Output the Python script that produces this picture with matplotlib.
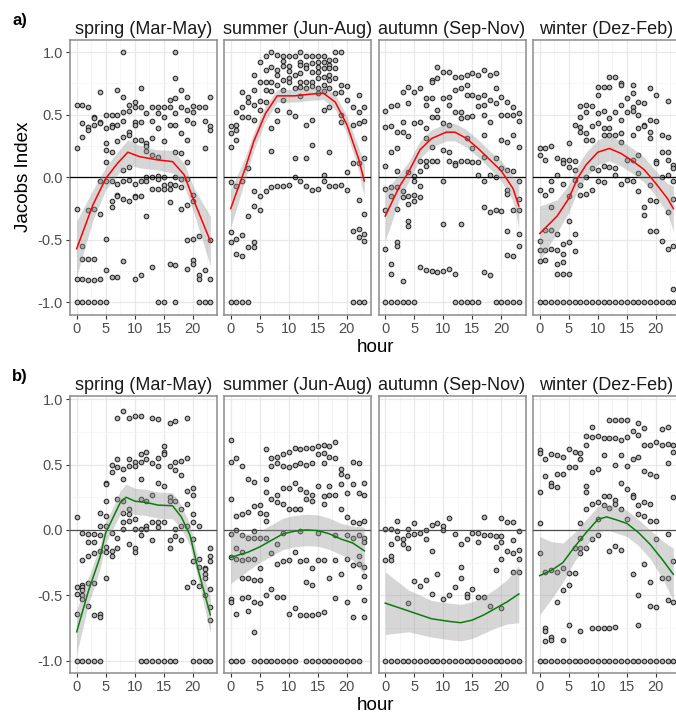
import matplotlib
matplotlib.use("Agg")
import matplotlib.pyplot as plt
from matplotlib.ticker import MultipleLocator

plt.rcParams['font.family'] = ['Liberation Sans', 'DejaVu Sans']

SEASONS = ["spring (Mar-May)", "summer (Jun-Aug)", "autumn (Sep-Nov)", "winter (Dez-Feb)"]
HOURS = list(range(24))

# ---- row a): Jacobs index per hour (one list per hour) ----
SPRING_A = [
    [0.58, 0.23, -0.25, -0.81, -1.0],
    [0.58, 0.43, 0.32, -0.55, -0.65, -0.81, -1.0],
    [0.56, 0.40, 0.38, -0.26, -0.65, -0.82, -1.0],
    [0.48, 0.47, 0.42, -0.25, -0.65, -0.82, -1.0],
    [0.68, 0.44, 0.43, -0.03, -0.29, -0.81, -1.0],
    [0.50, 0.39, 0.27, 0.22, 0.12, -0.03, -0.49, -0.74, -1.0],
    [0.50, 0.42, 0.40, 0.20, -0.03, -0.19, -0.24, -0.80],
    [0.70, 0.50, 0.42, 0.29, -0.05, -0.14, -0.15, -0.80],
    [1.0, 0.64, 0.52, 0.45, 0.32, 0.06, -0.03, -0.17, -0.67],
    [0.58, 0.53, 0.36, 0.34, 0.08, -0.02, -0.19],
    [0.60, 0.56, 0.44, 0.42, 0.30, -0.05, -0.15, -0.16, -0.81],
    [0.71, 0.56, 0.44, 0.30, -0.03, -0.15, -0.78],
    [0.51, 0.27, 0.25, 0.21, 0.0, -0.03, -0.31],
    [0.56, 0.45, 0.31, 0.18, 0.0, -0.09, -0.72],
    [0.56, 0.51, 0.39, 0.16, 0.01, -0.01, -0.09, -1.0],
    [0.56, 0.48, 0.29, 0.0, -0.06, -0.09, -1.0],
    [0.62, 0.56, 0.42, -0.05, -0.09, -0.20, -0.69],
    [1.0, 0.79, 0.63, 0.51, 0.42, 0.20, 0.0, -0.06, -0.70, -1.0],
    [0.70, 0.56, 0.35, 0.19, -0.01, -0.08, -0.25],
    [0.64, 0.54, 0.46, 0.30, 0.12, -0.01, -0.22, -0.50, -0.73],
    [0.57, 0.52, 0.43, -0.14, -0.19, -0.49, -0.66, -0.69],
    [0.56, -0.47, -0.78, -0.81, -1.0],
    [0.56, 0.45, 0.23, -0.74, -1.0],
    [0.64, 0.41, 0.38, -0.50, -0.81, -1.0],
]
SUMMER_A = [
    [0.41, 0.35, 0.24, -0.04, -0.44, -0.52, -1.0],
    [0.52, 0.42, 0.38, 0.30, -0.07, -0.49, -0.61, -1.0],
    [0.68, 0.56, 0.48, -0.03, -0.46, -0.63, -1.0],
    [0.64, 0.60, 0.48, 0.07, -0.31, -0.56, -1.0],
    [0.82, 0.70, 0.58, 0.46, -0.11, -0.23, -0.52, -0.56],
    [0.92, 0.76, 0.61, 0.54, -0.15, -0.26],
    [0.97, 0.86, 0.76, 0.70, 0.60, -0.11],
    [1.0, 0.88, 0.76, 0.69, 0.39, 0.21, -0.08],
    [0.98, 0.86, 0.82, 0.74, 0.54, 0.45, -0.07],
    [0.97, 0.93, 0.89, 0.78, 0.70, 0.62, -0.07],
    [0.97, 0.89, 0.85, 0.79, 0.76, 0.52, -0.06],
    [0.97, 0.82, 0.71, 0.49, 0.15, 0.0],
    [1.0, 0.92, 0.90, 0.83, 0.76, 0.72, 0.65, -0.03],
    [0.97, 0.90, 0.87, 0.76, 0.71, 0.42, 0.15, -0.07],
    [0.97, 0.91, 0.84, 0.76, 0.73, 0.46, 0.26, -0.10],
    [0.97, 0.92, 0.88, 0.84, 0.79, 0.71, 0.67, -0.09],
    [0.97, 0.92, 0.87, 0.80, 0.74, 0.69, 0.54, 0.02, -0.03],
    [0.94, 0.90, 0.87, 0.82, 0.78, 0.71, 0.56, 0.20, -0.07],
    [1.0, 0.94, 0.87, 0.79, 0.67, -0.07],
    [1.0, 0.74, 0.68, 0.50, 0.44, -0.06],
    [0.73, 0.62, 0.04, -0.10],
    [0.56, 0.42, 0.11, -0.43, -1.0],
    [0.66, 0.52, 0.43, 0.11, -0.18, -0.41, -0.48, -1.0],
    [0.56, 0.45, 0.31, 0.15, -0.29, -0.45, -0.51, -1.0],
]
AUTUMN_A = [
    [0.53, 0.40, 0.09, -0.09, -0.26, -0.57, -1.0],
    [0.57, 0.41, 0.20, -0.08, -0.15, -0.69, -0.77, -1.0],
    [0.58, 0.36, 0.23, 0.05, -0.08, -0.25, -0.52, -0.55, -1.0],
    [0.68, 0.44, 0.36, -0.11, -0.16, -0.83, -1.0],
    [0.72, 0.59, 0.33, 0.04, -0.15, -0.21, -0.35, -0.39, -1.0],
    [0.68, 0.43, 0.01, -0.03, -0.14, -0.19, -1.0],
    [0.71, 0.44, 0.13, 0.05, -0.07, -0.16, -0.72],
    [0.63, 0.58, 0.39, 0.31, 0.13, 0.09, -0.74],
    [0.78, 0.76, 0.63, 0.48, 0.24, 0.13, -0.75],
    [0.88, 0.79, 0.54, 0.48, 0.13, -0.76],
    [0.84, 0.63, 0.43, 0.22, -0.03, -0.37, -0.75],
    [0.84, 0.64, 0.58, 0.42, 0.20, 0.13, -0.73],
    [0.80, 0.70, 0.52, 0.11, 0.10, -0.77, -1.0],
    [0.80, 0.71, 0.52, 0.47, 0.13, -0.37, -1.0],
    [0.82, 0.74, 0.66, 0.48, 0.31, 0.13, -1.0],
    [0.83, 0.66, 0.49, 0.23, 0.12, -1.0],
    [0.82, 0.64, 0.57, 0.12, 0.02, -1.0],
    [0.86, 0.66, 0.58, 0.50, 0.34, 0.16, -0.03, -0.24, -0.76],
    [0.82, 0.62, 0.44, 0.02, -0.28, -0.78],
    [0.83, 0.71, 0.59, 0.15, 0.0, -0.26, -1.0],
    [0.64, 0.50, 0.30, 0.07, -0.27, -1.0],
    [0.60, 0.50, 0.28, 0.06, -0.10, -0.13, -0.43, -0.62, -1.0],
    [0.56, 0.50, 0.34, 0.05, -0.26, -0.63, -1.0],
    [0.51, 0.45, 0.24, -0.03, -0.17, -0.26, -0.45, -0.55, -1.0],
]
WINTER_A = [
    [0.23, 0.18, -0.10, -0.51, -0.58, -0.67, -1.0],
    [0.23, 0.14, -0.14, -0.42, -0.58, -0.66, -1.0],
    [0.25, -0.03, -0.10, -0.24, -0.42, -0.57, -1.0],
    [0.15, 0.02, -0.45, -0.58, -0.69, -0.77, -1.0],
    [0.14, 0.11, -0.05, -0.53, -0.61, -0.68, -0.77, -1.0],
    [0.27, 0.14, 0.08, -0.15, -0.35, -0.52, -0.77, -1.0],
    [0.42, 0.13, 0.06, -0.02, -0.45, -0.59, -1.0],
    [0.57, 0.48, 0.40, 0.36, -0.06, -0.14, -1.0],
    [0.58, 0.52, 0.35, 0.30, 0.0, -0.13, -1.0],
    [0.57, 0.41, 0.30, 0.07, -0.10, -1.0],
    [0.72, 0.66, 0.51, 0.43, 0.06, -0.03, -1.0],
    [0.72, 0.53, 0.39, 0.34, 0.09, -0.04, -1.0],
    [0.80, 0.72, 0.47, 0.39, 0.34, 0.08, -1.0],
    [0.80, 0.52, 0.34, 0.07, 0.02, -1.0],
    [0.75, 0.74, 0.58, 0.46, 0.35, 0.28, -0.05, -1.0],
    [0.63, 0.52, 0.14, -0.02, -1.0],
    [0.74, 0.67, 0.56, 0.53, 0.34, 0.14, -0.03, -1.0],
    [0.60, 0.50, 0.39, 0.18, 0.03, -0.11, -1.0],
    [0.59, 0.42, 0.41, -0.24, -0.30, -1.0],
    [0.71, 0.46, 0.36, 0.31, -0.06, -0.18, -0.43, -1.0],
    [0.66, 0.45, 0.13, 0.11, -0.19, -0.43, -1.0],
    [0.34, 0.20, 0.0, -0.51, -1.0],
    [0.61, 0.32, 0.20, 0.14, 0.02, -0.28, -0.57, -1.0],
    [0.10, 0.07, -0.03, -0.17, -0.55, -0.89, -1.0],
]

# ---- row b) ----
SPRING_B = [
    [0.10, -0.44, -0.49, -0.64, -1.0],
    [-0.02, -0.23, -0.42, -0.44, -0.46, -0.50, -0.53, -1.0],
    [-0.03, -0.09, -0.20, -0.41, -0.58, -1.0],
    [-0.03, -0.09, -0.18, -0.41, -0.65, -1.0],
    [0.13, 0.03, -0.04, -0.16, -0.64, -0.67, -1.0],
    [0.36, 0.35, 0.22, 0.11, 0.03, -0.13, -0.17, -0.37],
    [0.50, 0.44, -0.02, -0.16, -0.20],
    [0.86, 0.54, 0.48, 0.24, -0.06, -0.14],
    [0.91, 0.47, 0.39, 0.22, 0.13, 0.06, 0.01],
    [0.86, 0.54, 0.49, 0.16, 0.12, 0.07, -0.11],
    [0.87, 0.52, 0.49, 0.08, 0.01, -0.14, -0.17],
    [0.87, 0.58, 0.52, 0.39, 0.24, 0.01, -0.04, -1.0],
    [0.60, 0.54, 0.22, 0.03, 0.01, -1.0],
    [0.86, 0.51, 0.27, 0.06, -0.08, -1.0],
    [0.85, 0.55, 0.49, 0.36, 0.06, 0.02, -1.0],
    [0.64, 0.60, 0.58, 0.34, 0.06, -1.0],
    [0.82, 0.49, 0.25, 0.22, -0.08, -0.14, -1.0],
    [0.83, 0.52, 0.46, 0.22, 0.01, -0.05, -1.0],
    [0.53, 0.42, 0.16, 0.03, -0.08],
    [0.86, 0.55, 0.30, 0.20, 0.03, -0.44],
    [0.32, 0.27, 0.12, 0.06, -0.07, -0.24, -0.40, -1.0],
    [0.03, -0.22, -0.28, -0.43, -1.0],
    [-0.29, -0.30, -0.34, -0.37, -0.50, -1.0],
    [-0.14, -0.20, -0.24, -0.45, -0.59, -0.69, -1.0],
]
SUMMER_B = [
    [0.69, 0.52, 0.24, -0.03, -0.21, -0.53, -0.55, -1.0],
    [0.55, 0.11, 0.0, -0.14, -0.22, -0.64, -1.0],
    [0.49, 0.12, -0.04, -0.17, -0.23, -0.37, -0.52, -1.0],
    [0.39, 0.14, -0.06, -0.22, -0.37, -0.51, -0.62],
    [0.37, 0.18, -0.01, -0.06, -0.22, -0.38, -0.55, -0.78, -1.0],
    [0.19, 0.13, -0.06, -0.29, -0.38, -0.56, -1.0],
    [0.62, 0.39, 0.29, 0.12, 0.07, -0.06, -0.50, -1.0],
    [0.55, 0.49, 0.24, -0.18, -0.45, -1.0],
    [0.56, 0.51, 0.27, 0.21, -0.11, -0.26, -0.51, -1.0],
    [0.58, 0.49, 0.32, 0.20, -0.02, -0.24, -0.51, -1.0],
    [0.60, 0.48, 0.32, 0.16, -0.23, -0.64, -1.0],
    [0.63, 0.50, 0.36, 0.16, -0.17, -0.60, -1.0],
    [0.62, 0.51, 0.31, 0.16, -0.01, -0.24, -0.65],
    [0.63, 0.50, 0.29, 0.24, -0.23, -0.40, -0.65, -1.0],
    [0.63, 0.51, 0.27, 0.22, -0.29, -0.42, -0.65, -1.0],
    [0.64, 0.58, 0.34, -0.02, -0.23, -0.64, -1.0],
    [0.65, 0.59, 0.51, 0.26, 0.20, -0.23, -0.63, -1.0],
    [0.64, 0.56, 0.34, 0.27, -0.37, -1.0],
    [0.67, 0.55, 0.27, -0.04, -0.23, -0.52, -1.0],
    [0.47, 0.43, 0.35, 0.16, -0.34, -1.0],
    [0.41, 0.28, 0.10, -0.04, -0.22, -0.55, -1.0],
    [0.52, 0.35, 0.06, -0.06, -0.27, -0.67, -1.0],
    [0.51, 0.28, 0.05, -0.04, -0.20, -0.26, -0.44, -1.0],
    [0.36, 0.27, 0.07, -0.06, -0.09, -0.28, -0.35, -0.54, -0.67],
]
AUTUMN_B = [
    [0.01, -0.23, -1.0],
    [0.01, -0.11, -0.20, -0.23, -1.0],
    [0.07, -0.01, -0.06, -1.0],
    [-0.07, -0.11, -1.0],
    [0.01, -0.04, -0.14, -0.56, -1.0],
    [0.05, -0.03, -0.39, -1.0],
    [-0.02, -0.43, -1.0],
    [0.0, -0.07, -0.38, -1.0],
    [0.04, -0.16, -0.49, -1.0],
    [0.05, -0.34, -1.0],
    [0.03, 0.0, -0.53, -1.0],
    [0.09, -0.50, -1.0],
    [-0.03, -0.44, -1.0],
    [-0.11, -0.28, -0.37, -1.0],
    [-0.07, -0.49, -0.51, -1.0],
    [-0.02, -0.45, -1.0],
    [-0.02, -0.09, -0.51, -1.0],
    [0.10, -0.04, -0.51, -1.0],
    [-0.04, -0.58, -1.0],
    [-0.05, -0.13, -0.31, -1.0],
    [0.09, -0.05, -0.09, -0.22, -0.60, -1.0],
    [0.06, -0.16, -1.0],
    [0.06, -0.08, -0.18, -0.32, -1.0],
    [-0.01, -0.15, -0.22, -0.32, -1.0],
]
WINTER_B = [
    [0.61, 0.59, 0.29, 0.05, -0.18, -1.0],
    [0.54, 0.41, -0.32, -0.75, -0.77, -0.85, -1.0],
    [0.58, 0.36, 0.34, -0.31, -0.82, -0.84, -1.0],
    [0.57, 0.43, 0.33, -0.32, -0.55, -1.0],
    [0.56, 0.43, -0.29, -0.46, -0.84, -1.0],
    [0.62, 0.48, -0.33, -0.42, -0.73, -1.0],
    [0.60, 0.48, -0.14, -0.33, -1.0],
    [0.59, 0.54, 0.05, -0.06, -0.14, -0.18, -0.77, -1.0],
    [0.72, 0.65, 0.34, 0.29, 0.16, -0.14, -1.0],
    [0.79, 0.71, 0.44, 0.20, -0.07, -0.75, -1.0],
    [0.72, 0.47, 0.21, 0.08, -0.04, -0.75, -1.0],
    [0.70, 0.57, 0.26, 0.19, -0.75, -1.0],
    [0.84, 0.70, 0.26, 0.17, -0.16, -0.75, -1.0],
    [0.84, 0.70, 0.50, 0.23, 0.20, -0.12, -0.74, -1.0],
    [0.84, 0.69, 0.57, 0.36, 0.16, -0.15, -1.0],
    [0.84, 0.71, 0.49, 0.31, 0.08, -1.0],
    [0.76, 0.54, 0.27, 0.25, -0.34, -1.0],
    [0.82, 0.73, 0.56, 0.19, 0.12, -0.50, -0.73, -1.0],
    [0.78, 0.65, 0.45, 0.21, 0.11, -0.26, -1.0],
    [0.65, 0.43, 0.20, 0.07, -0.40, -0.58, -1.0],
    [0.67, 0.41, 0.07, -0.07, -0.59, -1.0],
    [0.77, 0.65, -0.37, -1.0],
    [0.79, 0.66, 0.51, -0.03, -0.37, -0.54, -1.0],
    [0.65, 0.60, 0.25, -0.24, -0.55, -1.0],
]

# ---- loess fits (hour knots, fitted value, half-width of the confidence band) ----
FIT_SPRING_A = ([0, 2.8, 5, 7, 8.8, 10.8, 13.7, 16.5, 18.5, 20.2, 23],
                [-0.57, -0.22, -0.01, 0.11, 0.20, 0.165, 0.14, 0.125, 0.02, -0.19, -0.51],
                [0.22, 0.12, 0.09, 0.09, 0.10, 0.09, 0.08, 0.09, 0.09, 0.10, 0.20])
FIT_SUMMER_A = ([0, 2.5, 4, 6, 8, 11, 14, 16, 18, 20, 22, 23],
                [-0.25, 0.07, 0.29, 0.51, 0.65, 0.65, 0.665, 0.67, 0.60, 0.42, 0.15, -0.03],
                [0.15, 0.09, 0.07, 0.06, 0.05, 0.05, 0.05, 0.05, 0.06, 0.07, 0.09, 0.13])
FIT_AUTUMN_A = ([0, 2.5, 4, 6, 8, 10.5, 12, 14, 16, 18, 20, 22, 23],
                [-0.31, -0.07, 0.04, 0.22, 0.31, 0.36, 0.36, 0.31, 0.23, 0.14, 0.05, -0.09, -0.23],
                [0.20, 0.10, 0.08, 0.07, 0.07, 0.07, 0.07, 0.07, 0.07, 0.07, 0.08, 0.10, 0.18])
FIT_WINTER_A = ([0, 3, 5, 6.5, 8, 10, 12, 14, 16, 18, 20, 22, 23],
                [-0.45, -0.31, -0.17, -0.01, 0.10, 0.20, 0.23, 0.19, 0.13, 0.06, -0.05, -0.17, -0.25],
                [0.22, 0.13, 0.11, 0.10, 0.10, 0.10, 0.10, 0.10, 0.10, 0.10, 0.10, 0.12, 0.18])
FIT_SPRING_B = ([0, 2, 4, 5, 6, 7.5, 8.5, 10, 12, 14, 16.5, 18, 19.5, 21, 23],
                [-0.78, -0.47, -0.21, -0.02, 0.07, 0.21, 0.25, 0.22, 0.21, 0.19, 0.185, 0.10, -0.04, -0.32, -0.65],
                [0.17, 0.10, 0.09, 0.08, 0.08, 0.09, 0.10, 0.10, 0.10, 0.10, 0.10, 0.09, 0.08, 0.08, 0.14])
FIT_SUMMER_B = ([0, 3, 5, 7, 9, 11, 13, 15, 17, 19, 21, 23],
                [-0.21, -0.17, -0.13, -0.08, -0.03, -0.01, 0.0, -0.005, -0.03, -0.07, -0.10, -0.16],
                [0.20, 0.14, 0.12, 0.12, 0.12, 0.12, 0.12, 0.12, 0.12, 0.12, 0.13, 0.18])
FIT_AUTUMN_B = ([0, 4, 8, 11, 13, 15, 17, 19, 21, 23],
                [-0.56, -0.62, -0.68, -0.70, -0.71, -0.69, -0.65, -0.60, -0.55, -0.49],
                [0.24, 0.16, 0.14, 0.14, 0.14, 0.14, 0.14, 0.15, 0.17, 0.22])
FIT_WINTER_B = ([0, 2, 4, 6, 8, 10, 11.5, 13, 15, 17, 19, 21, 23],
                [-0.35, -0.31, -0.25, -0.13, -0.02, 0.08, 0.10, 0.08, 0.05, -0.02, -0.11, -0.22, -0.34],
                [0.30, 0.22, 0.15, 0.11, 0.10, 0.10, 0.10, 0.10, 0.10, 0.10, 0.11, 0.14, 0.20])

ROWS = [
    dict(tag="a)", data=[SPRING_A, SUMMER_A, AUTUMN_A, WINTER_A],
         fits=[FIT_SPRING_A, FIT_SUMMER_A, FIT_AUTUMN_A, FIT_WINTER_A],
         color="#ff0000", zero="#000000", ylim=(-1.1, 1.1), top=39.5, bottom=315, ylabel="Jacobs Index"),
    dict(tag="b)", data=[SPRING_B, SUMMER_B, AUTUMN_B, WINTER_B],
         fits=[FIT_SPRING_B, FIT_SUMMER_B, FIT_AUTUMN_B, FIT_WINTER_B],
         color="#0b7d0b", zero="#4d4d4d", ylim=(-1.095, 1.025), top=396, bottom=673, ylabel=None),
]

W, H = 676, 713
fig = plt.figure(figsize=(W / 100, H / 100), dpi=100)
lefts = [70, 224, 378.5, 533]
pw = 147

for row in ROWS:
    for i, (season, pts, fit) in enumerate(zip(SEASONS, row["data"], row["fits"])):
        ax = fig.add_axes([lefts[i] / W, 1 - row["bottom"] / H, pw / W,
                           (row["bottom"] - row["top"]) / H])
        ax.set_xlim(-1.15, 24.15)
        ax.set_ylim(*row["ylim"])
        ax.xaxis.set_major_locator(MultipleLocator(5))
        ax.xaxis.set_minor_locator(MultipleLocator(2.5))
        ax.yaxis.set_major_locator(MultipleLocator(0.5))
        ax.yaxis.set_minor_locator(MultipleLocator(0.25))
        ax.grid(which="major", color="#e8e8e8", lw=0.9, zorder=0)
        ax.grid(which="minor", color="#f3f3f3", lw=0.5, zorder=0)
        ax.set_axisbelow(True)

        xs, ys = [], []
        for h, vals in zip(HOURS, pts):
            xs += [h] * len(vals)
            ys += vals
        ax.scatter(xs, ys, s=11, facecolor="#b3b3b3", edgecolor="#262626",
                   linewidths=0.75, zorder=2)

        ax.axhline(0, color=row["zero"], lw=0.9, zorder=3)

        fh, fv, fse = fit
        lo = [v - s for v, s in zip(fv, fse)]
        hi = [v + s for v, s in zip(fv, fse)]
        ax.fill_between(fh, lo, hi, color="#999999", alpha=0.4, lw=0, zorder=4)
        ax.plot(fh, fv, color=row["color"], lw=1.1, zorder=5)

        for sp in ax.spines.values():
            sp.set_color("#8c8c8c")
            sp.set_linewidth(1.1)
        ax.tick_params(which="major", length=3, width=0.8, color="#333333",
                       labelsize=10.5, labelcolor="#4d4d4d", pad=2)
        ax.tick_params(which="minor", length=0)
        ax.set_yticks([-1, -0.5, 0, 0.5, 1])
        ax.set_yticklabels(["-1.0", "-0.5", "0.0", "0.5", "1.0"])
        if i > 0:
            ax.tick_params(axis="y", which="major", length=0, labelleft=False)
        ax.set_title(season, fontsize=13, color="#1a1a1a", pad=4)
        if i == 0 and row["ylabel"]:
            ax.set_ylabel(row["ylabel"], fontsize=13.5, labelpad=4)

    fig.text(375 / W, 1 - (row["bottom"] + 32) / H, "hour", ha="center", va="center",
             fontsize=13.5)
    fig.text(20 / W, 1 - (row["top"] - 19) / H, row["tag"], ha="center", va="center",
             fontsize=12, fontweight="bold")

fig.savefig("out.png", dpi=100)
